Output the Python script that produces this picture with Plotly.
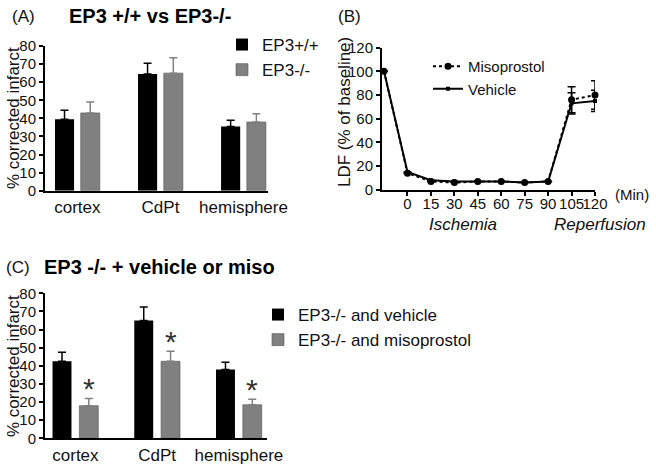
import plotly.graph_objects as go

# ---------------- data ----------------
regions = ["cortex", "CdPt", "hemisphere"]

# Panel A: EP3 +/+ vs EP3-/-
a_wt = [39.5, 64.5, 35.5]
a_wt_err = [5.0, 6.0, 3.5]
a_ko = [43.0, 65.0, 38.0]
a_ko_err = [6.0, 8.5, 4.5]

# Panel B: LDF time course
b_time = [-15, 0, 15, 30, 45, 60, 75, 90, 105, 120]
b_time_ticks = [0, 15, 30, 45, 60, 75, 90, 105, 120]
b_miso = [100, 14, 7, 6, 7, 7, 6, 7, 76, 80]
b_miso_err = [None, None, None, None, None, None, None, None, 11, 12]
b_veh = [100, 15, 8, 7, 7, 7, 6, 7, 73, 75]
b_veh_err = [None, None, None, None, None, None, None, None, 9, 9]

# Panel C: EP3 -/- + vehicle or misoprostol
c_veh = [42.5, 65.0, 38.0]
c_veh_err = [5.0, 7.5, 4.0]
c_miso = [18.0, 42.5, 18.5]
c_miso_err = [4.0, 5.5, 3.0]
c_sig = [True, True, True]

BLACK = "#000000"
GRAY = "#808080"
FONT = "Liberation Sans, Arial, sans-serif"

W, H = 656, 467


def px_x(p):
    return p / W


def px_y(p):
    return 1 - p / H


fig = go.Figure()

# ---------------- Panel A ----------------
fig.add_trace(go.Bar(
    x=regions, y=a_wt, name="EP3+/+", xaxis="x", yaxis="y",
    marker=dict(color=BLACK, line=dict(width=0)),
    width=0.23, offset=-0.27,
    error_y=dict(type="data", array=a_wt_err, arrayminus=[0] * 3, symmetric=False,
                 color=BLACK, thickness=1.5, width=4),
    legend="legend",
))
fig.add_trace(go.Bar(
    x=regions, y=a_ko, name="EP3-/-", xaxis="x", yaxis="y",
    marker=dict(color=GRAY, line=dict(width=0.6, color="#555555")),
    width=0.23, offset=0.04,
    error_y=dict(type="data", array=a_ko_err, arrayminus=[0] * 3, symmetric=False,
                 color=GRAY, thickness=1.5, width=4),
    legend="legend",
))

# ---------------- Panel B ----------------
fig.add_trace(go.Scatter(
    x=b_time, y=b_miso, name="Misoprostol", xaxis="x2", yaxis="y2",
    mode="lines+markers", cliponaxis=False,
    line=dict(color=BLACK, width=2, dash="dot"),
    marker=dict(color=BLACK, size=7, symbol="circle"),
    error_y=dict(type="data", array=b_miso_err, color=BLACK, thickness=1.5, width=4),
    legend="legend2",
))
fig.add_trace(go.Scatter(
    x=b_time, y=b_veh, name="Vehicle", xaxis="x2", yaxis="y2",
    mode="lines+markers", cliponaxis=False,
    line=dict(color=BLACK, width=2),
    marker=dict(color=BLACK, size=4, symbol="square"),
    error_y=dict(type="data", array=b_veh_err, color=BLACK, thickness=1.5, width=4),
    legend="legend2",
))

# ---------------- Panel C ----------------
fig.add_trace(go.Bar(
    x=regions, y=c_veh, name="EP3-/- and vehicle", xaxis="x3", yaxis="y3",
    marker=dict(color=BLACK, line=dict(width=0)),
    width=0.232, offset=-0.28,
    error_y=dict(type="data", array=c_veh_err, arrayminus=[0] * 3, symmetric=False,
                 color=BLACK, thickness=1.5, width=4),
    legend="legend3",
))
fig.add_trace(go.Bar(
    x=regions, y=c_miso, name="EP3-/- and misoprostol", xaxis="x3", yaxis="y3",
    marker=dict(color=GRAY, line=dict(width=0.6, color="#555555")),
    width=0.232, offset=0.048,
    error_y=dict(type="data", array=c_miso_err, arrayminus=[0] * 3, symmetric=False,
                 color=GRAY, thickness=1.5, width=4),
    legend="legend3",
))

annotations = []
# significance stars above misoprostol bars
for reg, v, e, s in zip(regions, c_miso, c_miso_err, c_sig):
    if s:
        annotations.append(dict(
            x=reg, y=v + e, xref="x3", yref="y3", text="*", showarrow=False,
            xshift=13.5, yshift=-9, yanchor="bottom",
            font=dict(size=30, color="#333333", family=FONT),
        ))

# panel labels and titles
annotations += [
    dict(x=px_x(10), y=px_y(16), xref="paper", yref="paper", text="(A)", showarrow=False,
         xanchor="left", yanchor="middle", font=dict(size=17, family=FONT, color="#111")),
    dict(x=px_x(67), y=px_y(16), xref="paper", yref="paper", text="<b>EP3 +/+ vs EP3-/-</b>",
         showarrow=False, xanchor="left", yanchor="middle", font=dict(size=20, family=FONT, color="#000")),
    dict(x=px_x(336), y=px_y(16), xref="paper", yref="paper", text="(B)", showarrow=False,
         xanchor="left", yanchor="middle", font=dict(size=17, family=FONT, color="#111")),
    dict(x=px_x(4), y=px_y(267), xref="paper", yref="paper", text="(C)", showarrow=False,
         xanchor="left", yanchor="middle", font=dict(size=17, family=FONT, color="#111")),
    dict(x=px_x(42), y=px_y(267), xref="paper", yref="paper", text="<b>EP3 -/- + vehicle or miso</b>",
         showarrow=False, xanchor="left", yanchor="middle", font=dict(size=20, family=FONT, color="#000")),
    # y titles
    dict(x=px_x(13), y=px_y(118), xref="paper", yref="paper", text="% corrected infarct",
         textangle=-90, showarrow=False, xanchor="center", yanchor="middle",
         font=dict(size=17, family=FONT, color="#111")),
    dict(x=px_x(344), y=px_y(112), xref="paper", yref="paper", text="LDF (% of baseline)",
         textangle=-90, showarrow=False, xanchor="center", yanchor="middle",
         font=dict(size=17, family=FONT, color="#111")),
    dict(x=px_x(13), y=px_y(366), xref="paper", yref="paper", text="% corrected infarct",
         textangle=-90, showarrow=False, xanchor="center", yanchor="middle",
         font=dict(size=17, family=FONT, color="#111")),
    # panel B x annotations
    dict(x=px_x(632), y=px_y(194), xref="paper", yref="paper", text="(Min)", showarrow=False,
         xanchor="center", yanchor="middle", font=dict(size=15, family=FONT, color="#111")),
    dict(x=px_x(463), y=px_y(224), xref="paper", yref="paper", text="<i>Ischemia</i>", showarrow=False,
         xanchor="center", yanchor="middle", font=dict(size=17, family=FONT, color="#111")),
    dict(x=px_x(600), y=px_y(224), xref="paper", yref="paper", text="<i>Reperfusion</i>", showarrow=False,
         xanchor="center", yanchor="middle", font=dict(size=17, family=FONT, color="#111")),
]

axis_common = dict(showline=True, linecolor="black", linewidth=2, showgrid=False, zeroline=False,
                   tickcolor="black", mirror=False, automargin=False)

fig.update_layout(
    template="none",
    width=W, height=H,
    margin=dict(l=0, r=0, t=0, b=0, pad=0),
    paper_bgcolor="white", plot_bgcolor="white",
    font=dict(family=FONT, color="#111"),
    barmode="overlay",
    showlegend=True,
    xaxis=dict(domain=[px_x(45), px_x(268)], anchor="y", type="category",
               range=[-0.39, 2.295], ticks="", tickfont=dict(size=17), tickangle=0,
               **axis_common),
    yaxis=dict(domain=[px_y(190.7), px_y(46)], anchor="x", range=[0, 80], dtick=10,
               ticks="outside", ticklen=4, tickwidth=2, tickfont=dict(size=15), **axis_common),
    xaxis2=dict(domain=[px_x(382), px_x(595)], anchor="y2", range=[-16.3, 120],
                tickvals=b_time_ticks, ticktext=[str(t) for t in b_time_ticks],
                ticks="outside", ticklen=4, tickwidth=1.5, tickfont=dict(size=15), tickangle=0,
                ticklabelstandoff=-5, **axis_common),
    yaxis2=dict(domain=[px_y(189.7), px_y(47.7)], anchor="x2", range=[0, 120], dtick=20,
                ticks="outside", ticklen=4, tickwidth=1.5, tickfont=dict(size=15), **axis_common),
    xaxis3=dict(domain=[px_x(45), px_x(267)], anchor="y3", type="category",
                range=[-0.372, 2.344], ticks="", tickfont=dict(size=17), tickangle=0,
                **axis_common),
    yaxis3=dict(domain=[px_y(438.3), px_y(293.3)], anchor="x3", range=[0, 80], dtick=10,
                ticks="outside", ticklen=4, tickwidth=2, tickfont=dict(size=15), **axis_common),
    legend=dict(x=px_x(222), y=px_y(27), xanchor="left", yanchor="top",
                font=dict(size=17), bgcolor="rgba(0,0,0,0)", borderwidth=0),
    legend2=dict(x=px_x(428), y=px_y(50), xanchor="left", yanchor="top",
                 font=dict(size=15), bgcolor="rgba(0,0,0,0)", borderwidth=0),
    legend3=dict(x=px_x(258), y=px_y(297), xanchor="left", yanchor="top",
                 font=dict(size=17), bgcolor="rgba(0,0,0,0)", borderwidth=0),
    annotations=annotations,
)

fig.write_html("out.html", config={"displayModeBar": False},
               post_script="document.body.style.margin='0';")
